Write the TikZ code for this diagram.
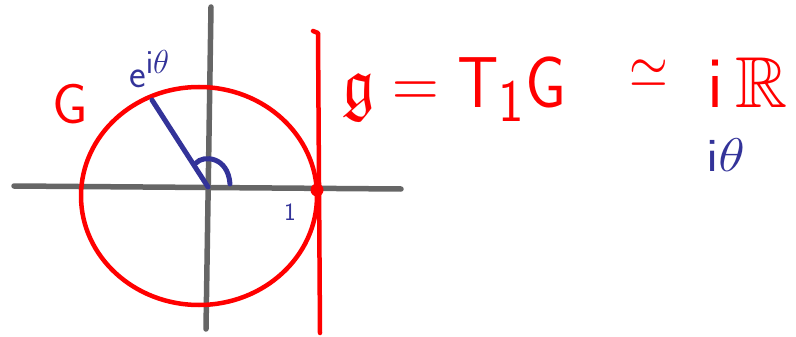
\documentclass[tikz,border=0pt]{standalone}
\usepackage{graphicx}
\usepackage{amssymb}
\definecolor{axisgray}{HTML}{666666}
\definecolor{penred}{HTML}{FF0000}
\definecolor{penblue}{HTML}{333399}
\begin{document}
\begin{tikzpicture}[x=1pt,y=-1pt,
  axis/.style={draw=axisgray,line width=5.5pt,line cap=round},
  redpen/.style={draw=penred,line width=4.5pt,line cap=round,line join=round},
  bluepen/.style={draw=penblue,line width=5pt,line cap=round},
  redtext/.style={text=penred,inner sep=0pt},
  bluetext/.style={text=penblue,inner sep=0pt}]
\useasboundingbox (0,0) rectangle (796,337);
% axes
\coordinate (xl) at (14,186);
\coordinate (xr) at (401,189);
\coordinate (yt) at (211,7);
\coordinate (yb) at (206,329);
\draw[axis] (xl) -- (xr);
\draw[axis] (yt) -- (yb);
% group circle
\coordinate (c) at (199,196);
\draw[redpen] (c) ellipse [x radius=118, y radius=109];
% tangent line
\coordinate (tt) at (318,33);
\coordinate (th) at (313,31);
\coordinate (tb) at (320,333);
\draw[redpen] (th) -- (tt) -- (tb);
\coordinate (one) at (317,190);
\fill[penred] (one) circle (6.5);
% radius and angle
\coordinate (o) at (208,187);
\coordinate (p) at (152,100);
\draw[bluepen] (o) -- (p);
\coordinate (a1) at (196,163);
\coordinate (a2) at (230,184);
\draw[bluepen] (a1) .. controls (203,155) and (228,156) .. (a2);
% labels
\node[redtext,font=\Huge] (G) at (70,104) {\scalebox{2.25}{$\mathsf{G}$}};
\node[bluetext,font=\Huge,anchor=base west] (eit) at (129,88) {\scalebox{1.6}{$\mathsf{e}^{\mathsf{i}\theta}$}};
\node[bluetext,font=\Huge] (lone) at (290,212) {$\mathsf{1}$};
\node[redtext,font=\Huge,anchor=base west] (eq) at (342,107) {\scalebox{2.6}[2.9]{$\mathfrak{g} = \mathsf{T}_{\mathsf{1}} \mathsf{G}$}};
\node[redtext,font=\Huge,anchor=center] (sim) at (649,74) {\scalebox{2}[2.4]{$\simeq$}};
\node[redtext,font=\Huge,anchor=base west] (iR) at (707,107) {\scalebox{2.9}{$\mathsf{i}\,\mathbb{R}$}};
\node[bluetext,font=\Huge,anchor=base west] (it) at (706,171) {\scalebox{2.2}[1.9]{$\mathsf{i}\theta$}};
\end{tikzpicture}
\end{document}
